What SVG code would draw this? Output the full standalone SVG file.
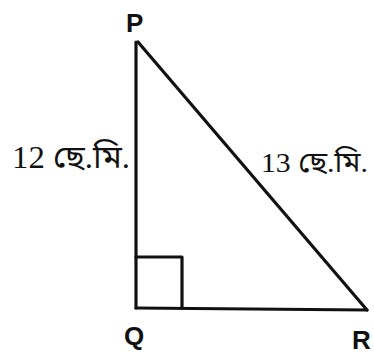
<svg xmlns="http://www.w3.org/2000/svg" width="374" height="354" viewBox="0 0 374 354">
<style>
.edge{stroke:#111;stroke-width:3.2;fill:none;stroke-linecap:round;stroke-linejoin:round}
.vlabel{font-family:"Liberation Sans",Arial,sans-serif;font-size:26px;font-weight:bold;fill:#111}
.len{font-family:"Liberation Serif","Noto Sans Bengali","Noto Serif Bengali","Lohit Bengali",serif;font-size:32px;fill:#111}
</style>
<rect width="374" height="354" fill="#fff"/>
<g id="connectors">
<line class="edge" x1="136" y1="42" x2="136" y2="308"/>
<line class="edge" x1="136" y1="308" x2="367" y2="310"/>
<line class="edge" x1="138" y1="42" x2="367" y2="310"/>
<path class="edge" d="M136 257 H182 V308"/>
</g>
<g id="P"><text class="vlabel" x="126" y="32">P</text></g>
<g id="Q"><text class="vlabel" x="124" y="345">Q</text></g>
<g id="R"><text class="vlabel" x="352" y="349">R</text></g>
<g id="label12"><text class="len" x="12" y="168" textLength="118" lengthAdjust="spacingAndGlyphs">12 ছে.মি.</text></g>
<g id="label13"><text class="len" style="font-size:28px" x="261" y="172" textLength="107" lengthAdjust="spacingAndGlyphs">13 ছে.মি.</text></g>
</svg>
